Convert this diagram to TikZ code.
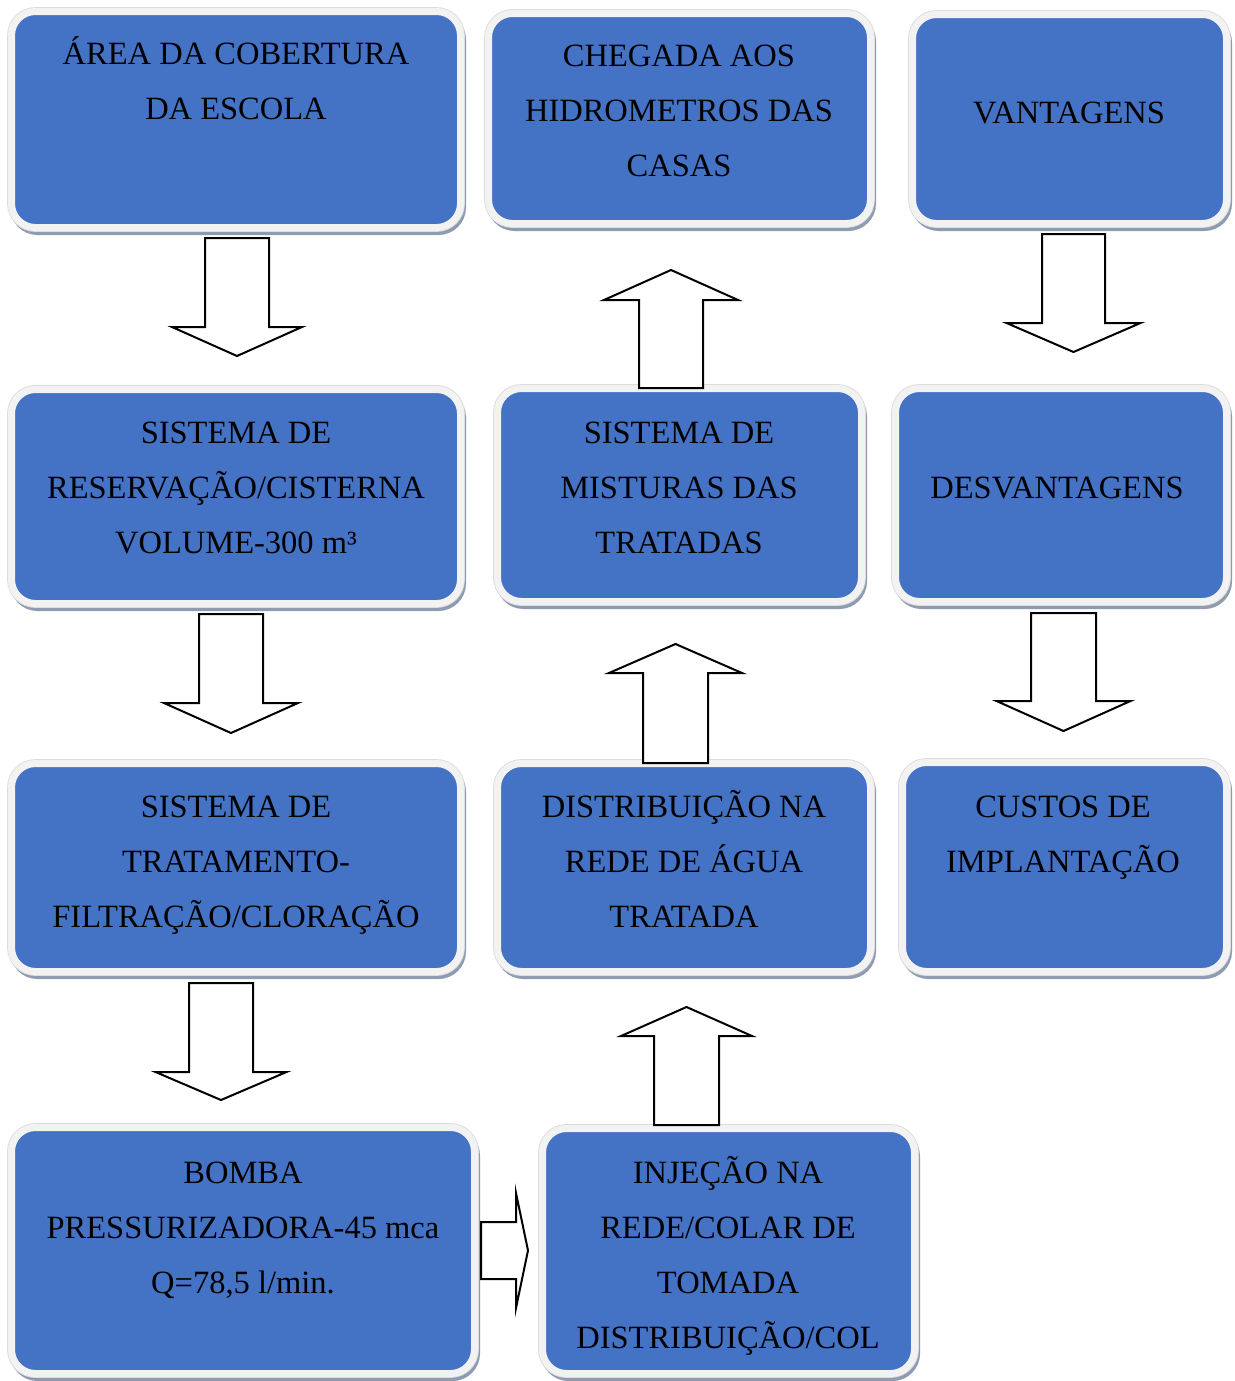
\documentclass[tikz,border=0pt]{standalone}
\usepackage{fontspec}
\setmainfont{Liberation Serif}
\definecolor{boxblue}{HTML}{4472C4}
\definecolor{bandc}{HTML}{F2F2F2}
\definecolor{edgec}{HTML}{DCDCDC}
\definecolor{shadowc}{HTML}{8E9BB0}
\tikzset{
  box/.style={rectangle, rounded corners=12pt, inner sep=0pt,
    preaction={draw=shadowc, fill=shadowc, line width=3.5pt, transform canvas={xshift=1pt, yshift=-2pt}},
    preaction={draw=edgec, line width=4.4pt},
    fill=boxblue, draw=bandc, line width=3.5pt},
  txt/.style={anchor=north, inner sep=0pt, align=center, text=black,
    font=\fontsize{16.25}{27.5}\selectfont},
  blockarrow/.style={draw=black, fill=white, line width=1pt, line join=miter}
}
\newcommand\tst{\rule{0pt}{18pt}}
% vertical block arrow: cx, start, headbase, tip, half shaft, half head
\newcommand\blkv[6]{\draw[blockarrow] (#1-#5,#2) -- (#1+#5,#2) -- (#1+#5,#3) -- (#1+#6,#3) -- (#1,#4) -- (#1-#6,#3) -- (#1-#5,#3) -- cycle;}
% horizontal block arrow: cy, start, headbase, tip, half shaft, half head
\newcommand\blkh[6]{\draw[blockarrow] (#2,#1-#5) -- (#2,#1+#5) -- (#3,#1+#5) -- (#3,#1+#6) -- (#4,#1) -- (#3,#1-#6) -- (#3,#1-#5) -- cycle;}
\begin{document}
\begin{tikzpicture}[x=0.5pt, y=-0.5pt]
\useasboundingbox (0,0) rectangle (1235,1381);
% boxes
\node[box, minimum width=224.5pt, minimum height=108pt] (b1) at (236,119.5) {};
\node[box, minimum width=224.5pt, minimum height=107pt] (b2) at (236,496.5) {};
\node[box, minimum width=224.5pt, minimum height=104pt] (b3) at (236,867.5) {};
\node[box, minimum width=231.5pt, minimum height=123pt] (b4) at (243,1250.5) {};
\node[box, minimum width=191pt, minimum height=105pt] (c1) at (679.5,118.5) {};
\node[box, minimum width=182pt, minimum height=106.5pt] (c2) at (679.5,495) {};
\node[box, minimum width=186.5pt, minimum height=104pt] (c3) at (684,867.5) {};
\node[box, minimum width=186pt, minimum height=122.5pt] (c4) at (728.5,1251) {};
\node[box, minimum width=157pt, minimum height=104.5pt] (d1) at (1069.5,119) {};
\node[box, minimum width=165.5pt, minimum height=106.5pt] (d2) at (1061,495) {};
\node[box, minimum width=162pt, minimum height=104.5pt] (d3) at (1064.5,867) {};
% texts (north = first cap centre - 25)
\node[txt] (b1t) at (236,28) {\tst ÁREA DA COBERTURA\\DA ESCOLA};
\node[txt] (b2t) at (236,407) {\tst SISTEMA DE\\RESERVAÇÃO/CISTERNA\\VOLUME-300 m³};
\node[txt] (b3t) at (236,781) {\tst SISTEMA DE\\TRATAMENTO-\\FILTRAÇÃO/CLORAÇÃO};
\node[txt] (b4t) at (243,1147) {\tst BOMBA\\PRESSURIZADORA-45 mca\\Q=78,5 l/min.};
\node[txt] (c1t) at (679,30) {\tst CHEGADA AOS\\HIDROMETROS DAS\\CASAS};
\node[txt] (c2t) at (679,407) {\tst SISTEMA DE\\MISTURAS DAS\\TRATADAS};
\node[txt] (c3t) at (684,781) {\tst DISTRIBUIÇÃO NA\\REDE DE ÁGUA\\TRATADA};
\node[txt] (c4t) at (728,1147) {\tst INJEÇÃO NA\\REDE/COLAR DE\\TOMADA\\DISTRIBUIÇÃO/COL};
\node[txt] (d1t) at (1069,87) {\tst VANTAGENS};
\node[txt] (d2t) at (1057,462) {\tst DESVANTAGENS};
\node[txt] (d3t) at (1063,781) {\tst CUSTOS DE\\IMPLANTAÇÃO};
% block arrows
\blkv{237}{238}{327}{356}{32}{65}
\blkv{231}{614}{703}{733}{32}{67}
\blkv{221}{983}{1072}{1100}{32}{65.5}
\blkv{1073.5}{234}{323}{352}{31.5}{67}
\blkv{1063.5}{613}{701}{731}{32.5}{67}
\blkv{671}{388}{300}{270}{32}{67}
\blkv{675.5}{763}{673}{644}{32.5}{66.5}
\blkv{686.5}{1125}{1036}{1007}{32.5}{65.5}
\blkh{1250.5}{481}{516}{528}{28.5}{57.5}
\end{tikzpicture}
\end{document}
